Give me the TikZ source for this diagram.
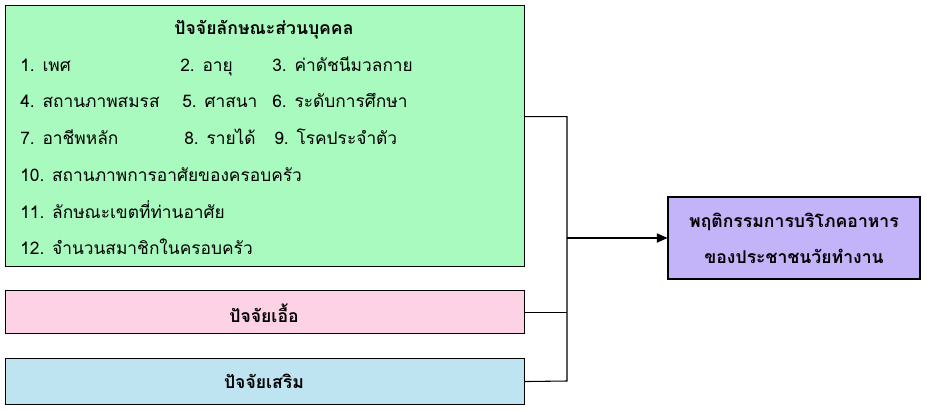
\documentclass[tikz,border=0pt]{standalone}
\usepackage{fontspec}
\newfontfamily\thaifont[Script=Thai]{Loma}
\usetikzlibrary{arrows.meta}

\definecolor{persgreen}{HTML}{A9FABE}
\definecolor{enablepink}{HTML}{FCD2E4}
\definecolor{supportblue}{HTML}{BEE4F2}
\definecolor{outpurple}{HTML}{C3B4FA}

\tikzset{
    factorbox/.style={draw, line width=0.8pt, minimum width=389.25pt, anchor=north west, inner sep=0pt},
    itemtext/.style={anchor=base west, inner sep=0pt},
    headtext/.style={font=\thaifont\bfseries\fontsize{13.2}{27}\selectfont, align=center}
}

\begin{document}
\begin{tikzpicture}[x=0.75pt, y=-0.75pt, every node/.style={font=\thaifont\fontsize{13}{15}\selectfont}]
    \useasboundingbox (0,0) rectangle (927,410);

    % Draw the three factor boxes on the left
    \node[factorbox, fill=persgreen, minimum height=195.75pt] (personal) at (5,5) {};
    \node[factorbox, fill=enablepink, minimum height=32.25pt] (enabling) at (5,290) {};
    \node[factorbox, fill=supportblue, minimum height=34.5pt] (support) at (5,358) {};

    % Draw the outcome box on the right
    \node[draw, line width=0.8pt, fill=outpurple, minimum width=189pt, minimum height=61.5pt,
          headtext] (outcome) at (794,238) {พฤติกรรมการบริโภคอาหาร\\ของประชาชนวัยทำงาน};

    % Titles of the factor boxes
    \node[headtext] (personaltitle) at (264,30) {ปัจจัยลักษณะส่วนบุคคล};
    \node[headtext] (enablingtitle) at (264,313) {ปัจจัยเอื้อ};
    \node[headtext] (supporttitle) at (264,381) {ปัจจัยเสริม};

    % List of personal characteristics
    \foreach \x/\y/\label [count=\i] in {20/66/1. เพศ, 180/66/2. อายุ, 272/66/3. ค่าดัชนีมวลกาย,
        20/102/4. สถานภาพสมรส, 182/102/5. ศาสนา, 272/102/6. ระดับการศึกษา,
        20/138/7. อาชีพหลัก, 184/138/8. รายได้, 274/138/9. โรคประจำตัว,
        20/175/10. สถานภาพการอาศัยของครอบครัว,
        20/212/11. ลักษณะเขตที่ท่านอาศัย,
        20/248/12. จำนวนสมาชิกในครอบครัว} {
        \node[itemtext] (item\i) at (\x,\y+6) {\label};
    }

    % Connectors into the outcome box
    \coordinate (junc) at (567,238);
    \coordinate (bus) at (567,381);
    \draw[line width=0.8pt] ([yshift=14.6pt]personal.east) -| (bus) -- (support.east);
    \draw[line width=0.8pt] (enabling.east) -- (enabling.east -| bus);
    \draw[line width=0.8pt, -{Triangle[length=8pt, width=7pt]}] (junc) -- (outcome.west);
\end{tikzpicture}
\end{document}
